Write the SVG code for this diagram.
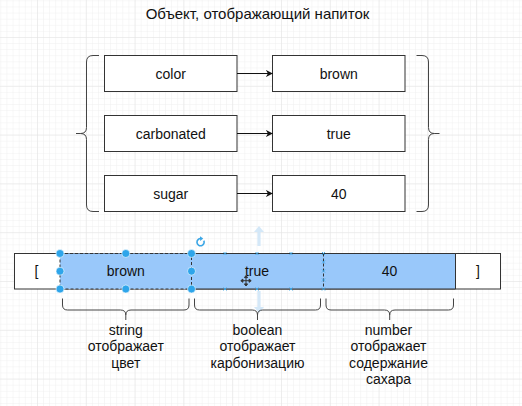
<svg xmlns="http://www.w3.org/2000/svg" width="522" height="406" viewBox="0 0 522 406">
<defs>
<pattern id="minor" x="37" y="37" width="6.1" height="6.1" patternUnits="userSpaceOnUse">
<path d="M0 0H6.1M0 0V6.1" fill="none" stroke="#efefef" stroke-width="1"/>
</pattern>
<pattern id="major" x="37" y="37" width="48.8" height="48.8" patternUnits="userSpaceOnUse">
<path d="M0 0H48.8M0 0V48.8" fill="none" stroke="#e3e3e3" stroke-width="1"/>
</pattern>
<marker id="arr" viewBox="0 0 10 10" refX="9.5" refY="5" markerWidth="7" markerHeight="7" markerUnits="userSpaceOnUse" orient="auto">
<path d="M0 0L10 5L0 10L3 5Z" fill="#111"/>
</marker>
</defs>
<style>
.box{fill:#fff;stroke:#333;stroke-width:1}
.t{font-family:"Liberation Sans",Arial,sans-serif;font-size:14px;fill:#111;text-anchor:middle}
.title{font-size:15px}
.brace{fill:none;stroke:#444;stroke-width:1}
.conn{stroke:#111;stroke-width:1;fill:none}
.cell{fill:#99c8fa;stroke:none}
.edge{stroke:#333;stroke-width:1;fill:none}
.dash{stroke:#333;stroke-width:1;fill:none;stroke-dasharray:3 2}
.h{fill:#2ea5ea;stroke:#fff;stroke-width:0.6}
.x{stroke:#3aa6e6;stroke-width:0.9}
.ghost{fill:#cfe5f7;opacity:0.9}
</style>
<rect width="522" height="406" fill="#fff"/>
<rect width="522" height="406" fill="url(#minor)"/>
<rect width="522" height="406" fill="url(#major)"/>

<g id="title"><text class="t title" x="257.5" y="18.5">Объект, отображающий напиток</text></g>

<g id="brace-left"><path class="brace" d="M99 55.5L93 55.5Q86.5 55.5 86.5 62L86.5 127.5Q86.5 133.5 80.5 133.5L76 133.5M80.5 133.5Q86.5 133.5 86.5 139.5L86.5 205Q86.5 211.5 93 211.5L99 211.5"/></g>
<g id="brace-right"><path class="brace" d="M416.5 55.5L422 55.5Q428.5 55.5 428.5 62L428.5 127.5Q428.5 133.5 434.5 133.5L439.5 133.5M434.5 133.5Q428.5 133.5 428.5 139.5L428.5 205Q428.5 211.5 422 211.5L416.5 211.5"/></g>

<g id="key-color"><rect class="box" x="104.5" y="55.5" width="132.5" height="36"/><text class="t" x="170.75" y="78.5">color</text></g>
<g id="val-brown"><rect class="box" x="272.5" y="55.5" width="132.5" height="36"/><text class="t" x="338.75" y="78.5">brown</text></g>
<g id="key-carbonated"><rect class="box" x="104.5" y="115.5" width="132.5" height="36"/><text class="t" x="170.75" y="138.5">carbonated</text></g>
<g id="val-true"><rect class="box" x="272.5" y="115.5" width="132.5" height="36"/><text class="t" x="338.75" y="138.5">true</text></g>
<g id="key-sugar"><rect class="box" x="104.5" y="175.5" width="132.5" height="36"/><text class="t" x="170.75" y="198.5">sugar</text></g>
<g id="val-40"><rect class="box" x="272.5" y="175.5" width="132.5" height="36"/><text class="t" x="338.75" y="198.5">40</text></g>

<g id="connectors">
<line class="conn" x1="237" y1="73.5" x2="272.5" y2="73.5" marker-end="url(#arr)"/>
<line class="conn" x1="237" y1="133.5" x2="272.5" y2="133.5" marker-end="url(#arr)"/>
<line class="conn" x1="237" y1="193.5" x2="272.5" y2="193.5" marker-end="url(#arr)"/>
</g>

<g id="array">
<rect class="box" x="14.5" y="253.5" width="486" height="35.5"/>
<rect class="cell" x="60" y="253.5" width="395.5" height="35.5"/>
<path class="edge" d="M191.5 253.5H455.5M191.5 289H455.5M455.5 253.5V289"/>
<rect class="dash" x="60" y="253.5" width="131.5" height="35.5"/>
<line class="dash" x1="323.5" y1="253.5" x2="323.5" y2="289"/>
<text class="t" x="36.5" y="276">[</text>
<text class="t" x="125.8" y="276">brown</text>
<text class="t" x="257" y="276">true</text>
<text class="t" x="389.5" y="276">40</text>
<text class="t" x="478" y="276">]</text>
</g>

<g id="ui-overlay">
<path class="ghost" d="M259 226L264 232H260.6V246H257.4V232H254Z"/>
<path class="ghost" d="M259 313L264 307H260.6V291H257.4V307H254Z"/>
<g class="x">
<path d="M223.5 252L226.5 255M226.5 252L223.5 255"/>
<path d="M255.5 252L258.5 255M258.5 252L255.5 255"/>
<path d="M289.5 252L292.5 255M292.5 252L289.5 255"/>
<path d="M223.5 287.5L226.5 290.5M226.5 287.5L223.5 290.5"/>
<path d="M255.5 287.5L258.5 290.5M258.5 287.5L255.5 290.5"/>
<path d="M289.5 287.5L292.5 290.5M292.5 287.5L289.5 290.5"/>
<path d="M322 252L325 255M325 252L322 255"/>
<path d="M322 260.5L325 263.5M325 260.5L322 263.5"/>
<path d="M322 269.5L325 272.5M325 269.5L322 272.5"/>
<path d="M322 278.5L325 281.5M325 278.5L322 281.5"/>
<path d="M322 287.5L325 290.5M325 287.5L322 290.5"/>
</g>
<circle class="h" cx="60" cy="253.5" r="4"/>
<circle class="h" cx="125.8" cy="253.5" r="4"/>
<circle class="h" cx="191.5" cy="253.5" r="4"/>
<circle class="h" cx="60" cy="271.2" r="4"/>
<circle class="h" cx="191.5" cy="271.2" r="4"/>
<circle class="h" cx="60" cy="289" r="4"/>
<circle class="h" cx="125.8" cy="289" r="4"/>
<circle class="h" cx="191.5" cy="289" r="4"/>
<path d="M203.8 240.6A3.6 3.6 0 1 1 201 238.6" fill="none" stroke="#3aa6e6" stroke-width="1.6"/>
<path d="M200 236.2L203.2 238.6L200.2 241Z" fill="#3aa6e6"/>
<path d="M246 276.5V285M241.8 280.7H250.2M246 275.5L244.4 277.6H247.6ZM246 286L244.4 283.9H247.6ZM240.8 280.7L242.9 279.1V282.3ZM251.2 280.7L249.1 279.1V282.3Z" fill="#333" stroke="#333" stroke-width="1"/>
</g>

<g id="brace-string"><path class="brace" d="M62.5 298.5V305Q62.5 310 67.5 310H120.5Q125.8 310 125.8 315V320M125.8 315Q125.8 310 131 310H184Q189 310 189 305V298.5"/></g>
<g id="brace-boolean"><path class="brace" d="M194.5 298.5V305Q194.5 310 199.5 310H252.2Q257.5 310 257.5 315V320M257.5 315Q257.5 310 262.8 310H315.5Q320.5 310 320.5 305V298.5"/></g>
<g id="brace-number"><path class="brace" d="M326 298.5V305Q326 310 331 310H384.5Q389.7 310 389.7 315V320M389.7 315Q389.7 310 395 310H448.5Q453.5 310 453.5 305V298.5"/></g>

<g id="label-string"><text class="t" x="125.8" y="335">string</text><text class="t" x="125.8" y="351.3">отображает</text><text class="t" x="125.8" y="367.6">цвет</text></g>
<g id="label-boolean"><text class="t" x="257.5" y="335">boolean</text><text class="t" x="257.5" y="351.3">отображает</text><text class="t" x="257.5" y="367.6">карбонизацию</text></g>
<g id="label-number"><text class="t" x="388.5" y="335">number</text><text class="t" x="388.5" y="351.3">отображает</text><text class="t" x="388.5" y="367.6">содержание</text><text class="t" x="388.5" y="383.9">сахара</text></g>
</svg>
